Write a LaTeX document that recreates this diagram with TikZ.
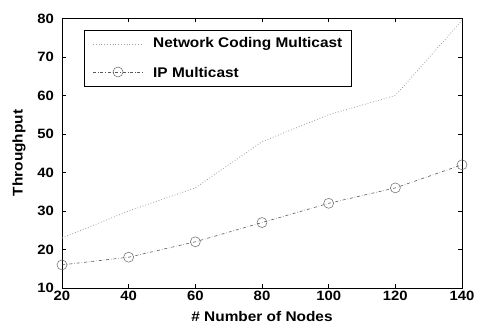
\documentclass[tikz,border=0pt]{standalone}
\usepackage{fontspec}
\setmainfont{Liberation Sans}[FakeStretch=1.1]
\begin{document}
\begin{tikzpicture}[x=1pt,y=1pt,
  axisline/.style={black,line width=0.8pt},
  tickline/.style={black,line width=0.6pt},
  ticklab/.style={inner sep=0pt,font=\bfseries\fontsize{13.5}{15}\selectfont},
  axlab/.style={inner sep=0pt,font=\bfseries\fontsize{14}{16}\selectfont},
  nccurve/.style={gray!75,dotted,line width=0.8pt},
  ipcurve/.style={black!65,dash dot,line width=0.6pt},
  ipmark/.style={circle,draw=black!60,line width=0.5pt,minimum size=10pt,inner sep=0pt},
  legbox/.style={draw=black,line width=0.7pt,fill=white}]
\useasboundingbox (0,0) rectangle (479,332);
\fill[white] (0,0) rectangle (479,332);
% axes box
\coordinate (ll) at (62,44);
\coordinate (ur) at (462,313.5);
\draw[axisline] (ll) rectangle (ur);
% x ticks
\foreach \v in {20,40,...,140}{
  \pgfmathsetmacro{\px}{62+(\v-20)*10/3}
  \draw[tickline] (\px,44) -- ++(0,4);
  \draw[tickline] (\px,313.5) -- ++(0,-4);
  \node[ticklab,anchor=north] (xt\v) at (\px,41) {\v};
}
% y ticks
\foreach \v in {10,20,...,80}{
  \pgfmathsetmacro{\py}{44+(\v-10)*3.85}
  \draw[tickline] (62,\py) -- ++(4,0);
  \draw[tickline] (462,\py) -- ++(-4,0);
  \node[ticklab,anchor=east] (yt\v) at (54,\py) {\v};
}
% axis labels
\node[axlab] (xlabel) at (262,16) {\# Number of Nodes};
\node[axlab,rotate=90] (ylabel) at (19,179) {Throughput};
% data
\begin{scope}[shift={(-4.6667pt,5.5pt)},x=3.33333pt,y=3.85pt]
  \coordinate (n1) at (20,23);
  \coordinate (n2) at (40,30);
  \coordinate (n3) at (60,36);
  \coordinate (n4) at (80,48);
  \coordinate (n5) at (100,55);
  \coordinate (n6) at (120,60);
  \coordinate (n7) at (140,79.5);
  \coordinate (p1) at (20,16);
  \coordinate (p2) at (40,18);
  \coordinate (p3) at (60,22);
  \coordinate (p4) at (80,27);
  \coordinate (p5) at (100,32);
  \coordinate (p6) at (120,36);
  \coordinate (p7) at (140,42);
\end{scope}
\draw[nccurve] (n1) -- (n2) -- (n3) -- (n4) -- (n5) -- (n6) -- (n7);
\draw[ipcurve] (p1) -- (p2) -- (p3) -- (p4) -- (p5) -- (p6) -- (p7);
\foreach \i in {1,...,7}{
  \node[ipmark] (m\i) at (p\i) {};
}
% legend
\draw[legbox] (84,246) rectangle (351,302);
\coordinate (la1) at (93,288);
\coordinate (lb1) at (143,288);
\coordinate (la2) at (93,260);
\coordinate (lb2) at (143,260);
\draw[nccurve] (la1) -- (lb1);
\draw[ipcurve] (la2) -- (lb2);
\node[ipmark] (lm) at (118,260) {};
\node[axlab,anchor=west] (lt1) at (153,288) {Network Coding Multicast};
\node[axlab,anchor=west] (lt2) at (153,260) {IP Multicast};
\end{tikzpicture}
\end{document}
